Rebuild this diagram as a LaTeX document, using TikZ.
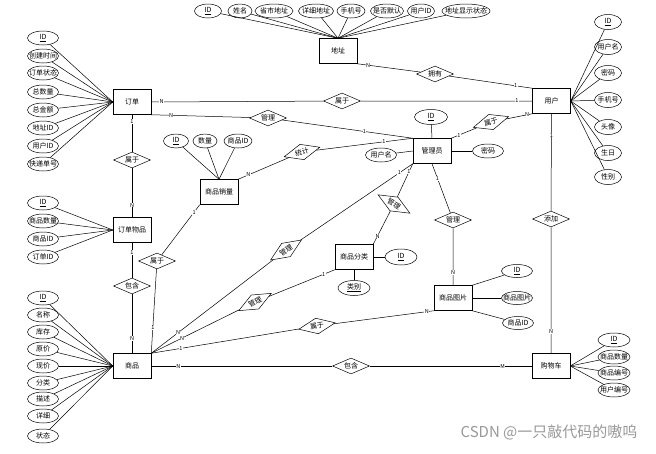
\documentclass[tikz,border=0pt]{standalone}
\usepackage{fontspec}
\setmainfont{Noto Sans CJK SC}
\usetikzlibrary{shapes.geometric}
\newcommand\zb[1]{\makebox[0pt]{#1}}
\begin{document}
\begin{tikzpicture}[x=1pt,y=-1pt,
  every node/.style={font=\fontsize{7}{8}\selectfont},
  ent/.style={draw, rectangle, minimum width=38pt, minimum height=25pt, inner sep=0pt},
  attr/.style={draw, ellipse, minimum width=31pt, minimum height=14pt, inner sep=0pt},
  rel/.style={draw, diamond, minimum width=37pt, minimum height=16pt, inner sep=0pt},
  lbl/.style={fill=white, inner sep=0.4pt, font=\fontsize{5.5}{6}\selectfont},
  line width=0.5pt]
\useasboundingbox[fill=white] (0,0) rectangle (656,453);

% entities
\node[ent] (addr) at (338,51) {地址};
\node[ent] (user) at (551.5,101) {用户};
\node[ent] (order) at (132,102) {订单};
\node[ent] (item) at (132,230) {订单物品};
\node[ent] (prod) at (132,366) {商品};
\node[ent] (sales) at (219,192) {商品销量};
\node[ent] (admin) at (432,151) {管理员};
\node[ent] (cat) at (354,257) {商品分类};
\node[ent] (pic) at (453,298) {商品图片};
\node[ent] (cart) at (551,366) {购物车};

% relationships
\node[rel] (r1) at (435,74) {\zb{拥有}};
\node[rel] (r2) at (342,101) {\zb{属于}};
\node[rel] (r3) at (268,118) {\zb{管理}};
\node[rel, rotate=15] (r4) at (302,152) {\zb{统计}};
\node[rel, rotate=17] (r5) at (491,122) {\zb{属于}};
\node[rel] (r6) at (132,160) {\zb{属于}};
\node[rel] (r7) at (132,286) {\zb{包含}};
\node[rel] (r8) at (157,261) {\zb{属于}};
\node[rel, rotate=-30] (r9) at (394,204) {\zb{管理}};
\node[rel] (r10) at (453,220) {\zb{管理}};
\node[rel, rotate=33] (r11) at (286,250) {\zb{管理}};
\node[rel, rotate=28] (r12) at (255,302) {\zb{管理}};
\node[rel, rotate=10] (r13) at (317,326) {\zb{属于}};
\node[rel] (r14) at (551,219) {\zb{添加}};
\node[rel] (r15) at (351,366) {\zb{包含}};

% attributes: order
\foreach \y/\t [count=\i] in {38/\underline{ID},56/创建时间,73/订单状态,92/总数量,110/总金额,128/地址ID,146/用户ID,164/快递单号}{
  \node[attr] (oa\i) at (43,\y) {\zb{\t}};
  \draw (oa\i) -- (order.west);
}
% attributes: order item
\foreach \y/\t [count=\i] in {203/\underline{ID},221/商品数量,239/商品ID,257/订单ID}{
  \node[attr] (ia\i) at (43,\y) {\zb{\t}};
  \draw (ia\i) -- (item.west);
}
% attributes: product
\foreach \y/\t [count=\i] in {298/\underline{ID},315/名称,332/库存,349/原价,366/现价,383/分类,399/描述,416/详细,436/状态}{
  \node[attr] (pa\i) at (43,\y) {\zb{\t}};
  \draw (pa\i) -- (prod.west);
}
% attributes: user
\foreach \y/\t [count=\i] in {22/\underline{ID},47/用户名,73/密码,100/手机号,127/头像,153/生日,177/性别}{
  \node[attr, minimum width=27pt, minimum height=15pt] (ua\i) at (608,\y) {\zb{\t}};
  \draw (ua\i) -- (user.east);
}
% attributes: address
\foreach \x/\w/\t [count=\i] in {208/27/\underline{ID},240/24/姓名,274/38/省市地址,316/35/详细地址,351/28/手机号,387/33/是否默认,421/27/用户ID,466/48/地址显示状态}{
  \node[attr, minimum width=\w pt] (aa\i) at (\x,11) {\zb{\t}};
  \draw (aa\i) -- (addr.north);
}
% attributes: sales
\foreach \x/\w/\t [count=\i] in {176/25/\underline{ID},205/24/数量,238/28/商品ID}{
  \node[attr, minimum width=\w pt] (sa\i) at (\x,141) {\zb{\t}};
  \draw (sa\i) -- (sales.north);
}
% attributes: admin
\node[attr, minimum width=33pt, minimum height=15pt] (ma1) at (431,117) {\zb{\underline{ID}}};
\node[attr] (ma2) at (381,155) {\zb{用户名}};
\node[attr] (ma3) at (488,151) {\zb{密码}};
\draw (ma1) -- (admin.north);
\draw (ma2) -- (admin.west);
\draw (ma3) -- (admin.east);
% attributes: category
\node[attr, minimum width=32pt, minimum height=16pt] (ca1) at (401,257) {\zb{\underline{ID}}};
\node[attr, minimum width=32pt, minimum height=15pt] (ca2) at (354,288) {\zb{\underline{类别}}};
\draw (ca1) -- (cat.east);
\draw (ca2) -- (cat.south);
% attributes: picture
\node[attr, minimum height=13pt] (ga1) at (517,271) {\zb{\underline{ID}}};
\node[attr, minimum height=13pt] (ga2) at (517,298) {\zb{商品图片}};
\node[attr, minimum height=13pt] (ga3) at (518,323) {\zb{商品ID}};
\draw (ga1) -- (pic.north east);
\draw (ga2) -- (pic.east);
\draw (ga3) -- (pic.south east);
% attributes: cart
\foreach \y/\t [count=\i] in {340/\underline{ID},357/商品数量,373/商品编号,390/用户编号}{
  \node[attr, minimum width=32pt] (ka\i) at (614,\y) {\zb{\t}};
  \draw (ka\i) -- (cart.east);
}

% relationship connectors
\draw (addr.south east) -- node[lbl,pos=.17]{N} (r1) -- node[lbl,pos=.8]{1} (user.north west);
\draw (order.east) -- node[lbl,pos=.06]{N} (r2) -- node[lbl,pos=.91]{1} (user.west);
\draw (order.south east) -- node[lbl,pos=.2]{N} (r3) -- node[lbl,pos=.63]{1} (admin.north west);
\draw (sales.north east) -- node[lbl,pos=.2]{N} (r4) -- node[lbl,pos=.7]{1} (admin.north west);
\draw (admin.north east) -- node[lbl,pos=.3]{1} (r5) -- node[lbl,pos=.8]{N} (user.south west);
\draw (order.south) -- node[lbl,pos=.18]{1} (r6) -- node[lbl,pos=.75]{N} (item.north);
\draw (item.south) -- node[lbl,pos=.28]{1} (r7) -- node[lbl,pos=.75]{N} (prod.north);
\draw (sales.south west) -- node[lbl,pos=.15]{1} (r8) -- node[lbl,pos=.7]{1} (prod.north east);
\draw (admin.south west) -- node[lbl,pos=.25]{1} (r9) -- node[lbl,pos=.75]{N} (cat.north east);
\draw (admin.south) -- node[lbl,pos=.3]{1} (r10) -- node[lbl,pos=.77]{N} (pic.north);
\draw (prod.north east) -- node[lbl,pos=.22]{N} (r11) -- node[lbl,pos=.88]{1} (admin.south west);
\draw (prod.north east) -- node[lbl,pos=.35]{N} (r12) -- node[lbl,pos=.83]{1} (cat.south west);
\draw (prod.north east) -- node[lbl,pos=.2]{1} (r13) -- node[lbl,pos=.93]{N} (pic.south west);
\draw (user.south) -- node[lbl,pos=.22]{1} (r14) -- node[lbl,pos=.83]{N} (cart.north);
\draw (prod.east) -- node[lbl,pos=.15]{N} (r15) -- node[lbl,pos=.82]{M} (cart.west);

% watermark
\node[anchor=east, text=black!40, font=\fontsize{15}{15}\selectfont] (wm) at (641,432) {CSDN @一只敲代码的嗷呜};
\end{tikzpicture}
\end{document}
